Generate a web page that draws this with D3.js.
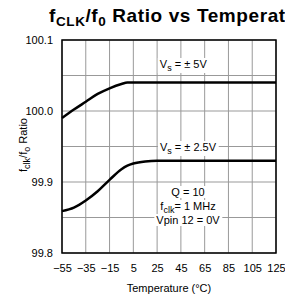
<!DOCTYPE html>
<html>
<head>
<meta charset="utf-8">
<script src="https://cdn.jsdelivr.net/npm/d3@7"></script>
<style>
  body { margin: 0; background: #fff; overflow: hidden; }
  svg { display: block; font-family: "Liberation Sans", Arial, sans-serif; }
</style>
</head>
<body>
<svg id="chart" width="285" height="305"></svg>
<script>
// temperatures (°C) and ratios
var temps = [-55, -45, -35, -25, -15, -5, 0, 5, 15, 25, 45, 65, 85, 105, 125];
var vs5 = [99.99, 100.002, 100.013, 100.024, 100.032, 100.038, 100.04, 100.04, 100.04, 100.04, 100.04, 100.04, 100.04, 100.04, 100.04];
var vs25 = [99.859, 99.864, 99.874, 99.887, 99.903, 99.918, 99.923, 99.926, 99.929, 99.93, 99.93, 99.93, 99.93, 99.93, 99.93];
var xTicks = [-55, -35, -15, 5, 25, 45, 65, 85, 105, 125];
var yTicks = [99.8, 99.9, 100.0, 100.1];
var yGrid = [99.8, 99.85, 99.9, 99.95, 100.0, 100.05, 100.1];

var svg = d3.select("#chart");
var mLeft = 62, mRight = 276, mTop = 40, mBottom = 253;

var x = d3.scaleLinear().domain([-55, 125]).range([mLeft, mRight]);
var y = d3.scaleLinear().domain([99.8, 100.1]).range([mBottom, mTop]);

// title (runs off the right edge like the original)
var title = svg.append("text")
  .attr("x", 49).attr("y", 22)
  .style("font-weight", "bold").style("font-size", "19px").style("letter-spacing", "0.6px");
title.append("tspan").text("f");
title.append("tspan").text("CLK").attr("dy", 4).style("font-size", "13.5px");
title.append("tspan").text("/f").attr("dy", -4);
title.append("tspan").text("0").attr("dy", 4).style("font-size", "13.5px");
title.append("tspan").text(" Ratio vs Temperature").attr("dy", -4);

// grid
svg.append("g").selectAll("line").data(xTicks).enter().append("line")
  .attr("x1", function(d){ return x(d); }).attr("x2", function(d){ return x(d); })
  .attr("y1", mTop).attr("y2", mBottom)
  .attr("stroke", "#999").attr("stroke-width", 1);
svg.append("g").selectAll("line").data(yGrid).enter().append("line")
  .attr("y1", function(d){ return y(d); }).attr("y2", function(d){ return y(d); })
  .attr("x1", mLeft).attr("x2", mRight)
  .attr("stroke", "#999").attr("stroke-width", 1);

// curves
var line = d3.line()
  .x(function(d){ return x(d[0]); })
  .y(function(d){ return y(d[1]); })
  .curve(d3.curveMonotoneX);
[vs5, vs25].forEach(function(s){
  svg.append("path")
    .datum(d3.zip(temps, s))
    .attr("d", line)
    .attr("fill", "none").attr("stroke", "#000").attr("stroke-width", 2.5);
});

// frame
svg.append("rect")
  .attr("x", mLeft).attr("y", mTop).attr("width", mRight - mLeft).attr("height", mBottom - mTop)
  .attr("fill", "none").attr("stroke", "#000").attr("stroke-width", 1.5);

// axes labels
var xAxis = d3.axisBottom(x).tickValues(xTicks).tickSize(0).tickPadding(11)
  .tickFormat(function(d){ return d < 0 ? "\u2212" + Math.abs(d) : d; });
var gx = svg.append("g").attr("transform", "translate(0," + mBottom + ")").call(xAxis);
gx.select(".domain").remove();
gx.selectAll("text").style("font-size", "11px").style("font-family", "Liberation Sans, Arial").attr("fill", "#000");

var yAxis = d3.axisLeft(y).tickValues(yTicks).tickSize(0).tickPadding(9).tickFormat(d3.format(".1f"));
var gy = svg.append("g").attr("transform", "translate(" + mLeft + ",0)").call(yAxis);
gy.select(".domain").remove();
gy.selectAll("text").style("font-size", "11px").style("font-family", "Liberation Sans, Arial").attr("fill", "#000");

svg.append("text")
  .attr("x", (mLeft + mRight) / 2).attr("y", 292)
  .attr("text-anchor", "middle").style("font-size", "11px")
  .text("Temperature (\u00B0C)");

var yl = svg.append("text")
  .attr("transform", "translate(27,145) rotate(-90)")
  .attr("text-anchor", "middle").style("font-size", "11px");
yl.append("tspan").text("f");
yl.append("tspan").text("clk").attr("dy", 3).style("font-size", "9px");
yl.append("tspan").text("/f").attr("dy", -3);
yl.append("tspan").text("o").attr("dy", 3).style("font-size", "9px");
yl.append("tspan").text(" Ratio").attr("dy", -3);

// annotations
function label(cx, by, parts) {
  var t = svg.append("text").attr("x", cx).attr("y", by)
    .attr("text-anchor", "middle").style("font-size", "11px");
  parts.forEach(function(p){
    var s = t.append("tspan").text(p[0]);
    if (p[1]) s.attr("dy", p[1]);
    if (p[2]) s.style("font-size", p[2]);
  });
  var b = t.node().getBBox();
  svg.insert("rect", function(){ return t.node(); })
    .attr("x", b.x - 2).attr("y", b.y).attr("width", b.width + 4).attr("height", b.height)
    .attr("fill", "#fff");
}
label(x(47), 68, [["V"], ["s", 3, "9px"], [" = \u00B1 5V", -3]]);
label(x(51), 151, [["V"], ["s", 3, "9px"], [" = \u00B1 2.5V", -3]]);
label(x(51), 196, [["Q = 10"]]);
label(x(51), 210, [["f"], ["clk", 3, "9px"], ["= 1 MHz", -3]]);
label(x(51), 224, [["Vpin 12 = 0V"]]);
</script>
</body>
</html>
